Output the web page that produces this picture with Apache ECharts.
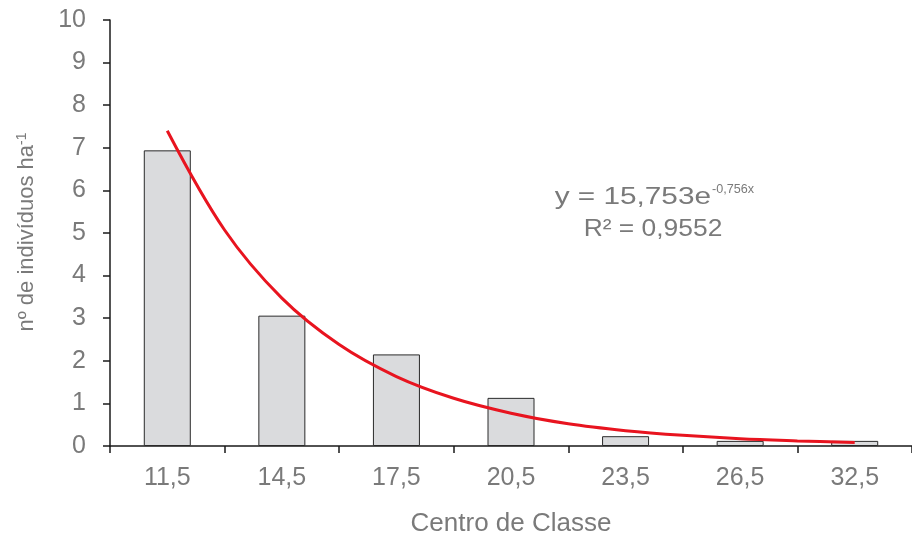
<!DOCTYPE html>
<html>
<head>
<meta charset="utf-8">
<script src="https://cdn.jsdelivr.net/npm/echarts@6/dist/echarts.min.js"></script>
<style>
  html, body { margin: 0; padding: 0; background: #fff; overflow: hidden; }
  #chart { width: 912px; height: 542px; }
</style>
</head>
<body>
<div id="chart"></div>
<script>
// Diameter class centres (cm)
const classCentres = ['11,5', '14,5', '17,5', '20,5', '23,5', '26,5', '32,5'];
// Individuals per hectare in each class
const individualsPerHa = [6.94, 3.06, 2.15, 1.13, 0.23, 0.12, 0.12];
// Exponential trend line, sampled along class position (1 = first class)
const trendX = [1, 1.5, 2, 2.5, 3, 3.5, 4, 4.5, 5, 5.5, 6, 6.5, 7];
const trendY = [7.40, 5.07, 3.47, 2.38, 1.63, 1.12, 0.77, 0.52, 0.36, 0.25, 0.17, 0.12, 0.08];
// Y-axis ticks
const yTicks = [0, 1, 2, 3, 4, 5, 6, 7, 8, 9, 10];

const FONT = '"Liberation Sans", Arial, sans-serif';
const GREY = '#7a7a7a';
const AXIS = '#1a1a1a';

const chart = echarts.init(document.getElementById('chart'), null, { renderer: 'canvas', width: 912, height: 542 });

chart.setOption({
  backgroundColor: '#ffffff',
  animation: false,
  grid: { left: 110, top: 20, width: 806, height: 429, containLabel: false },
  xAxis: [
    {
      type: 'category',
      data: classCentres,
      boundaryGap: true,
      name: 'Centro de Classe',
      nameLocation: 'middle',
      nameGap: 65,
      nameTextStyle: { color: GREY, fontFamily: FONT, fontSize: 26 },
      axisLine: { lineStyle: { color: AXIS, width: 1.5 } },
      axisTick: { show: true, alignWithLabel: false, length: 7, inside: false, lineStyle: { color: AXIS, width: 1.5 } },
      axisLabel: { color: GREY, fontFamily: FONT, fontSize: 25, margin: 20 },
      splitLine: { show: false }
    },
    {
      type: 'value',
      min: 0.5,
      max: 7.5,
      show: false,
      position: 'bottom'
    }
  ],
  yAxis: {
    type: 'value',
    min: yTicks[0],
    max: yTicks[yTicks.length - 1],
    interval: 1,
    name: 'nº de indivíduos ha{sup|-1}',
    nameLocation: 'middle',
    nameGap: 71,
    nameRotate: 90,
    nameTextStyle: {
      color: GREY, fontFamily: FONT, fontSize: 22, padding: [0, 0, 0, 2],
      rich: { sup: { color: GREY, fontFamily: FONT, fontSize: 14, verticalAlign: 'top', padding: [0, 0, 10, 0] } }
    },
    axisLine: { show: true, lineStyle: { color: AXIS, width: 1.5 } },
    axisTick: { show: true, length: 7, lineStyle: { color: AXIS, width: 1.5 } },
    axisLabel: { color: GREY, fontFamily: FONT, fontSize: 25, margin: 24 },
    splitLine: { show: false }
  },
  series: [
    {
      type: 'bar',
      xAxisIndex: 0,
      data: individualsPerHa,
      barWidth: 47,
      itemStyle: { color: '#dadbdd', borderColor: '#2a2a2a', borderWidth: 1 },
      z: 2
    },
    {
      type: 'line',
      xAxisIndex: 1,
      data: trendX.map((x, i) => [x, trendY[i]]),
      smooth: 0.35,
      showSymbol: false,
      symbol: 'none',
      lineStyle: { color: '#e8141f', width: 3 },
      z: 3
    }
  ],
  graphic: [
    {
      type: 'text',
      x: 711,
      y: 197,
      scaleX: 1.24,
      style: { text: 'y = 15,753e', fill: GREY, font: '24px ' + FONT, align: 'right', verticalAlign: 'middle' }
    },
    {
      type: 'text',
      x: 712,
      y: 189,
      scaleX: 0.97,
      style: { text: '-0,756x', fill: GREY, font: '13px ' + FONT, align: 'left', verticalAlign: 'middle' }
    },
    {
      type: 'text',
      x: 653,
      y: 229,
      scaleX: 1.1,
      style: { text: 'R² = 0,9552', fill: GREY, font: '24px ' + FONT, align: 'center', verticalAlign: 'middle' }
    }
  ]
});
</script>
</body>
</html>
